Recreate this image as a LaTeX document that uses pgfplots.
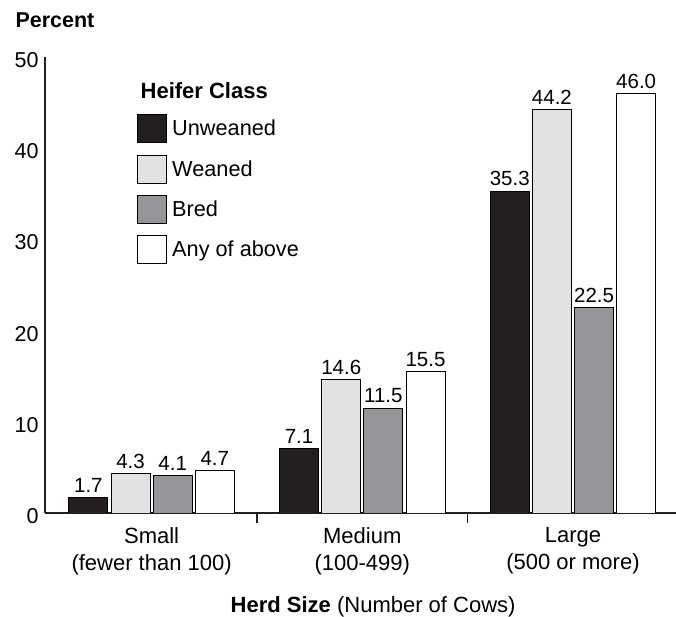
\documentclass[border=0pt]{standalone}
\usepackage{pgfplots}
\pgfplotsset{compat=1.18}
\usepackage{fontspec}
\setmainfont{Liberation Sans}
\definecolor{cUnw}{HTML}{231F20}
\definecolor{cWea}{HTML}{E1E2E4}
\definecolor{cBre}{HTML}{939598}
\definecolor{axc}{HTML}{231F20}
\begin{document}
\begin{tikzpicture}
\useasboundingbox (-45pt,-104pt) rectangle (631pt,513pt);
\begin{axis}[
  at={(0pt,0pt)}, anchor=south west,
  scale only axis, width=631pt, height=456pt,
  xmin=-0.506, xmax=2.489, ymin=0, ymax=50,
  axis x line=bottom, axis y line=left,
  axis line style={draw=axc, line width=1.4pt, -},
  font=\fontsize{22}{27}\selectfont,
  ytick={0,10,20,30,40,50},
  ytick style={draw=none},
  yticklabel style={/pgf/number format/assume math mode=true, font=\fontsize{21.5}{25}\selectfont, xshift=-3pt, yshift=-3pt},
  xtick={0.5,1.5},
  xticklabels={},
  xtick style={draw=axc, line width=1.4pt},
  major tick length=10pt, tick align=inside,
  extra x ticks={0,1,2},
  extra x tick labels={{Small\\(fewer than 100)},{Medium\\(100-499)},{Large\\(500 or more)}},
  extra x tick style={major tick length=0pt, xticklabel style={align=center, font=\fontsize{22}{27}\selectfont, yshift=-11pt}},
  xlabel={\textbf{Herd Size} (Number of Cows)},
  xlabel style={at={(axis description cs:0.52,0)}, anchor=base, yshift=-99pt, font=\fontsize{22}{27}\selectfont},
  title={\textbf{Percent}},
  title style={at={(axis description cs:0,1)}, anchor=base west, xshift=-33pt, yshift=23pt, font=\fontsize{21.5}{25}\selectfont},
  bar width=0.185,
  ybar,
  nodes near coords={\pgfmathprintnumber[fixed,fixed zerofill,precision=1,assume math mode=true]{\pgfplotspointmeta}},
  every node near coord/.append style={font=\fontsize{20.5}{24}\selectfont, anchor=south, inner sep=4.5pt, text=black},
  legend image code/.code={\draw[#1,draw=black,line width=0.9pt] (0pt,-14pt) rectangle (29pt,14pt);},
  legend style={at={(axis description cs:0.146,0.875)}, anchor=north west, draw=none, fill=none,
    font=\fontsize{21.7}{25}\selectfont, row sep=11.5pt, inner sep=0pt,
    /tikz/every odd column/.append style={column sep=3pt}},
  legend cell align=left,
]
\addplot[bar shift=-0.3, fill=cUnw, draw=black, line width=0.9pt] coordinates {(0,1.7) (1,7.1) (2,35.3)};
\addplot[bar shift=-0.1, fill=cWea, draw=black, line width=0.9pt] coordinates {(0,4.3) (1,14.6) (2,44.2)};
\addplot[bar shift=0.1, fill=cBre, draw=black, line width=0.9pt] coordinates {(0,4.1) (1,11.5) (2,22.5)};
\addplot[bar shift=0.3, fill=white, draw=black, line width=0.9pt] coordinates {(0,4.7) (1,15.5) (2,46.0)};
\legend{Unweaned,Weaned,Bred,Any of above}
\node[anchor=base west, font=\fontsize{22}{27}\selectfont\bfseries] at (axis description cs:0.146,0.910) {Heifer Class};
\end{axis}
\end{tikzpicture}
\end{document}
